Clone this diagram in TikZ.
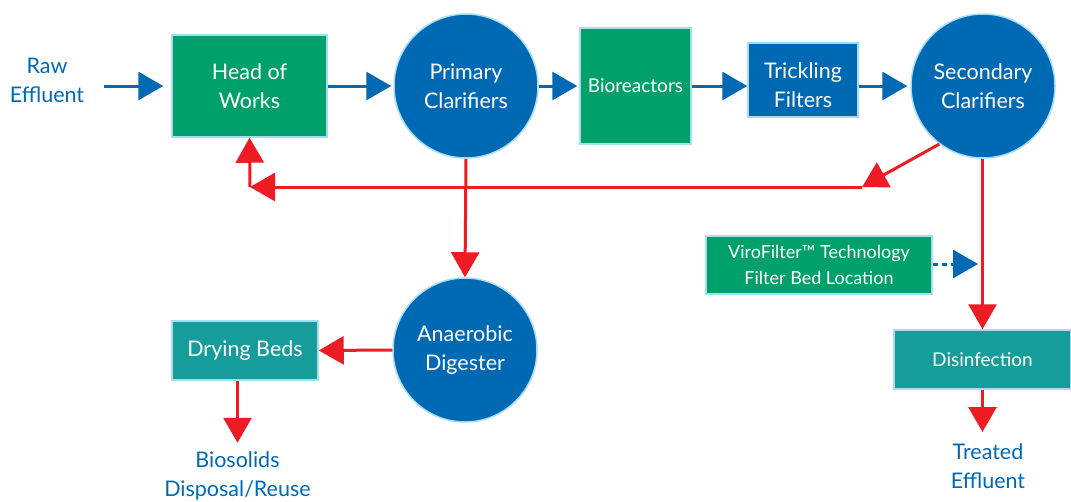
\documentclass[tikz,border=0pt]{standalone}
\usepackage{fontspec}
\setmainfont{Lato}
\usetikzlibrary{arrows.meta}
\definecolor{cblue}{HTML}{0069B4}
\definecolor{cgreen}{HTML}{00A06B}
\definecolor{cteal}{HTML}{179C9C}
\definecolor{cred}{HTML}{ED1C24}
\definecolor{cedge}{HTML}{A6DDF3}
\begin{document}
\begin{tikzpicture}[x=1pt,y=-1pt,
  every node/.style={inner sep=0pt, align=center},
  bigfont/.style={font=\fontsize{21.5}{29}\selectfont},
  midfont/.style={font=\fontsize{19}{26}\selectfont},
  gbox/.style={draw=cedge, line width=1.5pt, fill=cgreen, text=white, bigfont},
  bbox/.style={draw=cedge, line width=1.5pt, fill=cblue, text=white, bigfont},
  tbox/.style={draw=cedge, line width=1.5pt, fill=cteal, text=white, bigfont},
  disc/.style={circle, draw=cedge, line width=1.5pt, fill=cblue, text=white, minimum size=144pt, bigfont},
  lbl/.style={text=cblue, bigfont},
  tip/.style={-{Triangle[length=25pt,width=28pt]}},
  bflow/.style={draw=cblue, line width=3pt, tip},
  rflow/.style={draw=cred, line width=3pt, tip},
]
\useasboundingbox (0,0) rectangle (1071,501);

% nodes
\node[lbl] (raw) at (47,80) {Raw\\Effluent};
\coordinate (rawstart) at (104,86);
\node[gbox, minimum width=155pt, minimum height=102pt] (how) at (249.5,86) {Head of\\Works};
\node[disc] (pc) at (466,86) {Primary\\Clarifiers};
\node[gbox, minimum width=111pt, minimum height=116pt, midfont] (bio) at (635.5,86) {Bioreactors};
\node[bbox, minimum width=110pt, minimum height=74pt] (tf) at (803,80) {};
\node[text=white, bigfont] (tft) at (803,85) {Trickling\\Filters};
\node[disc] (sc) at (983,86) {Secondary\\Clarifiers};
\coordinate (r1) at (862,187);
\coordinate (r2) at (250,187);
\node[disc] (ad) at (465,350) {Anaerobic\\Digester};
\node[tbox, minimum width=146pt, minimum height=59pt] (db) at (245,350.5) {Drying Beds};
\node[lbl, anchor=north] (bs) at (237.5,451) {Biosolids\\Disposal/Reuse};
\node[gbox, minimum width=226pt, minimum height=58pt, font=\fontsize{18}{26}\selectfont] (vf) at (819,265) {ViroFilter™ Technology\\Filter Bed Location};
\coordinate (vtip) at (978,264);
\node[tbox, minimum width=177pt, minimum height=59pt, midfont] (dis) at (982.5,359.5) {Disinfection};
\node[lbl, anchor=north] (te) at (988,443) {Treated\\Effluent};

% blue flow
\draw[bflow, shorten >=8pt] (rawstart) -- (how.west);
\draw[bflow, shorten >=2pt] (how.east) -- (pc.west);
\draw[bflow, shorten >=2pt] (pc.east) -- (pc.east -| bio.west);
\draw[bflow] (bio.east) -- (bio.east -| tf.west);
\draw[bflow, shorten >=3pt] (tf.east |- sc.west) -- (sc.west);
\draw[bflow, dashed, dash pattern=on 5pt off 4pt] (vf.east |- vtip) -- (vtip);

% red flow
\draw[rflow] (sc.233) -- (r1);
\draw[rflow] (r1) -- (r2);
\draw[rflow] (r2) -- (how.south);
\draw[rflow] (pc.south) -- (ad.north);
\draw[rflow] (ad.west) -- (db.east);
\draw[rflow] (db.south -| bs.north) -- ++(0,62);
\draw[rflow] (sc.south -| dis.north) -- (dis.north);
\draw[rflow, shorten >=11pt] (dis.south) -- (dis.south |- te.north);
\end{tikzpicture}
\end{document}
